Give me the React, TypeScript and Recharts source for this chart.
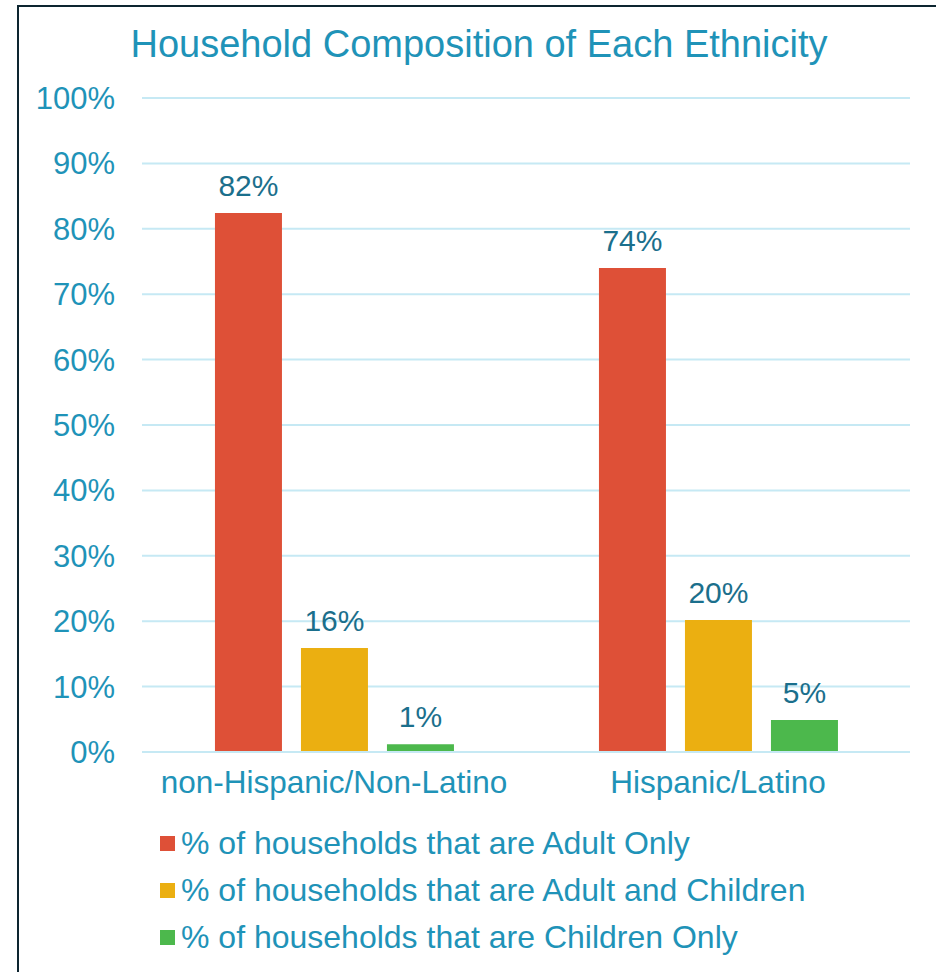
import { BarChart, Bar, XAxis, YAxis, CartesianGrid, LabelList } from "recharts";

const categories = ["non-Hispanic/Non-Latino", "Hispanic/Latino"];
const adultOnly = [82.4, 74.0];
const adultAndChildren = [15.9, 20.2];
const childrenOnly = [1.2, 4.9];
const yTicks = [0, 10, 20, 30, 40, 50, 60, 70, 80, 90, 100];

const SERIES = [
  { key: "adultOnly", name: "% of households that are Adult Only", color: "#de5037" },
  { key: "adultAndChildren", name: "% of households that are Adult and Children", color: "#ebaf11" },
  { key: "childrenOnly", name: "% of households that are Children Only", color: "#4cb84c" },
];

const data = categories.map((c, i) => ({
  category: c,
  adultOnly: adultOnly[i],
  adultAndChildren: adultAndChildren[i],
  childrenOnly: childrenOnly[i],
}));

const FONT = "'Liberation Sans', Arial, sans-serif";
const TEXT = "#1f93b8";
const LABEL = "#1b6f8c";

export default function App() {
  return (
    <div style={{ position: "absolute", left: 0, top: 0, width: 936, height: 972, background: "#fff", overflow: "hidden" }}>
      {/* frame */}
      <div
        style={{
          position: "absolute",
          left: 17,
          top: 5,
          width: 960,
          height: 1000,
          borderLeft: "2px solid #0d2530",
          borderTop: "2px solid #0d2530",
        }}
      />
      <div
        style={{
          position: "absolute",
          left: 0,
          top: 22,
          width: 958,
          textAlign: "center",
          fontFamily: FONT,
          fontSize: 38,
          color: TEXT,
          lineHeight: "44px",
        }}
      >
        Household Composition of Each Ethnicity
      </div>
      <div style={{ position: "absolute", left: 0, top: 0 }}>
        <BarChart
          width={936}
          height={972}
          data={data}
          margin={{ top: 98, right: 26, left: 0, bottom: 160 }}
          barCategoryGap="19%"
          barGap={19}
        >
          <CartesianGrid vertical={false} stroke="#c6e9f4" strokeWidth={2} />
          <XAxis
            dataKey="category"
            axisLine={{ stroke: "#c6e9f4", strokeWidth: 2 }}
            tickLine={false}
            tick={{ fill: TEXT, fontSize: 31.5, fontFamily: FONT }}
            tickMargin={13}
            height={60}
          />
          <YAxis
            width={142}
            domain={[0, 100]}
            ticks={yTicks}
            interval={0}
            axisLine={false}
            tickLine={false}
            tickMargin={21}
            tickFormatter={(v: number) => `${v}%`}
            tick={{ fill: TEXT, fontSize: 31, fontFamily: FONT }}
          />
          {SERIES.map((s) => (
            <Bar key={s.key} dataKey={s.key} name={s.name} fill={s.color} isAnimationActive={false}>
              <LabelList
                dataKey={s.key}
                position="top"
                offset={17}
                formatter={(v: number) => `${Math.round(v)}%`}
                style={{ fill: LABEL, fontSize: 30, fontFamily: FONT }}
              />
            </Bar>
          ))}
        </BarChart>
      </div>
      {/* legend */}
      <div style={{ position: "absolute", left: 160, top: 820, fontFamily: FONT }}>
        {SERIES.map((s) => (
          <div key={s.key} style={{ display: "flex", alignItems: "center", height: 47 }}>
            <span style={{ width: 15, height: 15, background: s.color, display: "inline-block", marginRight: 6 }} />
            <span style={{ color: TEXT, fontSize: 32 }}>{s.name}</span>
          </div>
        ))}
      </div>
    </div>
  );
}
